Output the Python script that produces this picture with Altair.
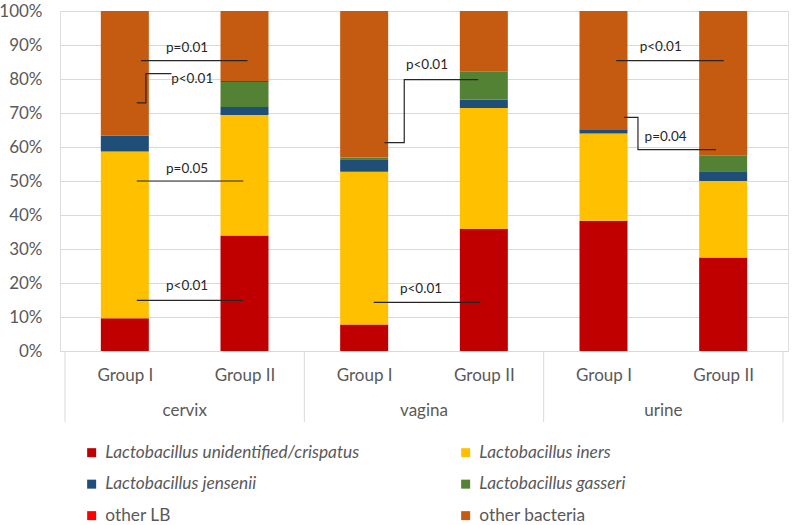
import altair as alt
import pandas as pd

# Composition of the bacterial community per site and group (% of reads)
sites = ["cervix", "vagina", "urine"]
groups = ["Group I", "Group II"]
series = [
    "Lactobacillus unidentified/crispatus",
    "Lactobacillus iners",
    "Lactobacillus jensenii",
    "Lactobacillus gasseri",
    "other LB",
    "other bacteria",
]
colors = ["#C00000", "#FFC000", "#1F4E79", "#548235", "#FF0000", "#C55A11"]

# one row per bar (cervix I, cervix II, vagina I, vagina II, urine I, urine II)
crispatus = [9.6, 34.0, 7.8, 35.9, 38.3, 27.5]
iners = [49.1, 35.4, 44.9, 35.6, 25.7, 22.5]
jensenii = [4.7, 2.4, 3.7, 2.5, 1.2, 2.9]
gasseri = [0.0, 7.3, 0.5, 8.1, 0.0, 4.5]
other_lb = [0.0, 0.3, 0.0, 0.2, 0.0, 0.0]
other_bacteria = [36.6, 20.6, 43.1, 17.7, 34.8, 42.6]

# significance markers: polylines in (bar slot, percent) space and their labels
ann_lines = [
    [(0.635, 85.4), (1.525, 85.4)],
    [(0.60, 73.0), (0.676, 73.0), (0.676, 81.6), (0.89, 81.6)],
    [(0.60, 50.0), (1.49, 50.0)],
    [(0.60, 14.9), (1.49, 14.9)],
    [(2.67, 61.3), (2.835, 61.3), (2.835, 79.8), (3.453, 79.8)],
    [(2.58, 14.3), (3.47, 14.3)],
    [(4.607, 85.4), (5.505, 85.4)],
    [(4.673, 68.7), (4.788, 68.7), (4.788, 59.2), (5.44, 59.2)],
]
ann_text = ["p=0.01", "p<0.01", "p=0.05", "p<0.01", "p<0.01", "p<0.01", "p<0.01", "p=0.04"]
ann_text_x = [1.02, 1.063, 1.02, 1.02, 3.025, 2.975, 4.978, 5.019]
ann_text_y = [89.1, 80.1, 53.5, 19.2, 84.1, 18.2, 89.3, 62.9]

FONT = "Lato"
GREY = "#595959"
GRID = "#D9D9D9"

values_by_series = [crispatus, iners, jensenii, gasseri, other_lb, other_bacteria]
rows = []
for b in range(len(sites) * len(groups)):
    for k, name in enumerate(series):
        rows.append({
            "pos": b + 0.5,
            "site": sites[b // 2],
            "group": groups[b % 2],
            "series": name,
            "order": k,
            "value": values_by_series[k][b],
        })
bars_df = pd.DataFrame(rows)

line_rows = []
for i, pts in enumerate(ann_lines):
    for j, (x, y) in enumerate(pts):
        line_rows.append({"id": i, "step": j, "x": x, "y": y})
lines_df = pd.DataFrame(line_rows)
text_df = pd.DataFrame({"label": ann_text, "x": ann_text_x, "y": ann_text_y})

site_df = pd.DataFrame({"site": sites, "x": [2 * i + 1 for i in range(len(sites))]})
sep_df = pd.DataFrame({"x": [2 * i for i in range(len(sites) + 1)]})

x_scale = alt.Scale(domain=[0, 6], nice=False, zero=False)
y_scale = alt.Scale(domain=[0, 100], nice=False)

# shared axes, repeated in every layer so the merged axis keeps these settings
x_axis = alt.Axis(
    values=[i + 0.5 for i in range(6)],
    labelExpr="datum.value % 2 < 1 ? 'Group I' : 'Group II'",
    grid=False,
    ticks=False,
    tickSize=0,
    domainColor=GRID,
    labelPadding=16,
    labelFont=FONT,
    labelFontSize=17,
    labelColor=GREY,
    labelOverlap=False,
    title=None,
)
y_axis = alt.Axis(
    values=list(range(0, 101, 10)),
    labelExpr="datum.value + '%'",
    labelOverlap=False,
    domain=False,
    ticks=False,
    tickSize=0,
    gridColor=GRID,
    labelPadding=18,
    labelFont=FONT,
    labelFontSize=17,
    labelColor=GREY,
    title=None,
)

nbsp = "\u00a0"
label_expr = (
    "indexof(['Lactobacillus iners','Lactobacillus jensenii','Lactobacillus gasseri'], datum.label) >= 0"
    f" ? '{nbsp}' + datum.label : datum.label"
)

bars = alt.Chart(bars_df).mark_bar(size=48).encode(
    x=alt.X("pos:Q", scale=x_scale, axis=x_axis),
    y=alt.Y("value:Q", stack="zero", scale=y_scale, axis=y_axis),
    color=alt.Color(
        "series:N",
        scale=alt.Scale(domain=series, range=colors),
        legend=alt.Legend(
            orient="none",
            direction="horizontal",
            legendX=23,
            legendY=433,
            columns=2,
            columnPadding=97,
            rowPadding=13.5,
            symbolType="square",
            symbolSize=81,
            symbolStrokeWidth=0,
            labelOffset=5,
            labelFont=FONT,
            labelFontSize=17.3,
            labelColor=GREY,
            labelLimit=400,
            labelExpr=label_expr,
            labelFontStyle={"expr": "indexof(datum.label, 'Lactobacillus') >= 0 ? 'italic' : 'normal'"},
            title=None,
        ),
    ),
    order=alt.Order("order:Q"),
)

lines = alt.Chart(lines_df).mark_line(color="#262626", strokeWidth=1.2).encode(
    x=alt.X("x:Q", scale=x_scale, axis=x_axis),
    y=alt.Y("y:Q", scale=y_scale, axis=y_axis),
    detail="id:N",
    order="step:Q",
)

labels = alt.Chart(text_df).mark_text(
    font=FONT, fontSize=13.5, color="#262626", align="center", baseline="middle"
).encode(
    x=alt.X("x:Q", scale=x_scale, axis=x_axis),
    y=alt.Y("y:Q", scale=y_scale, axis=y_axis),
    text="label:N",
)

separators = alt.Chart(sep_df).mark_rule(color=GRID, strokeWidth=1).encode(
    x=alt.X("x:Q", scale=x_scale, axis=x_axis),
    y=alt.value(340),
    y2=alt.value(411),
)

site_labels = alt.Chart(site_df).mark_text(
    font=FONT, fontSize=17, color=GREY, align="center", baseline="middle"
).encode(
    x=alt.X("x:Q", scale=x_scale, axis=x_axis),
    y=alt.value(400),
    text="site:N",
)

chart = alt.layer(bars, separators, site_labels, lines, labels).properties(
    width=728,
    height=340,
    padding={"left": 60, "top": 11, "right": 6, "bottom": 174},
    autosize="none",
).configure_view(strokeWidth=0).configure_axis(labelOverlap=False).configure(background="white")

chart.save("out.html", embed_options={"renderer": "svg", "actions": False})
